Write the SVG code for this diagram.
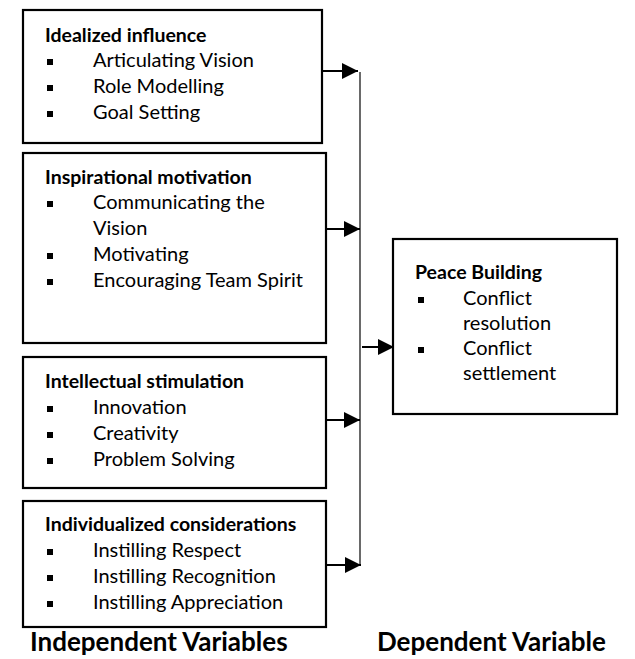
<svg xmlns="http://www.w3.org/2000/svg" width="635" height="659" viewBox="0 0 635 659">
<style>
.box{fill:#fff;stroke:#000;stroke-width:2.2}
.t{font-family:Lato,"Liberation Sans",sans-serif;font-size:20px;fill:#000}
.b{font-family:Lato,"Liberation Sans",sans-serif;font-size:19.5px;font-weight:bold;fill:#000}
.big{font-family:Lato,"Liberation Sans",sans-serif;font-size:26px;font-weight:bold;fill:#000}
.bul{fill:#000}
.ln{stroke:#000;stroke-width:2;fill:none}
.vl{stroke:#444;stroke-width:1.6;fill:none}
</style>
<defs>
<marker id="ah" viewBox="0 0 10 10" refX="10" refY="5" markerWidth="16" markerHeight="16" markerUnits="userSpaceOnUse" orient="auto">
<path d="M0,0 L10,5 L0,10 Z" fill="#000"/>
</marker>
</defs>
<g id="connectors">
<line class="vl" x1="360" y1="72" x2="360" y2="565"/>
<line class="ln" x1="322" y1="71" x2="358" y2="71" marker-end="url(#ah)"/>
<line class="ln" x1="326" y1="229" x2="360" y2="229" marker-end="url(#ah)"/>
<line class="ln" x1="326" y1="420" x2="360" y2="420" marker-end="url(#ah)"/>
<line class="ln" x1="326" y1="565" x2="361" y2="565" marker-end="url(#ah)"/>
<line class="ln" x1="362" y1="347" x2="394" y2="347" marker-end="url(#ah)"/>
</g>
<g id="idealized">
<rect class="box" x="23" y="10" width="299" height="133"/>
<text class="b" x="45" y="42">Idealized influence</text>
<rect class="bul" x="47" y="59" width="6" height="6"/><text class="t" x="93" y="67">Articulating Vision</text>
<rect class="bul" x="47" y="85" width="6" height="6"/><text class="t" x="93" y="93">Role Modelling</text>
<rect class="bul" x="47" y="111" width="6" height="6"/><text class="t" x="93" y="119">Goal Setting</text>
</g>
<g id="inspirational">
<rect class="box" x="23" y="153" width="303" height="190"/>
<text class="b" x="45" y="184">Inspirational motivation</text>
<rect class="bul" x="47" y="201" width="6" height="6"/><text class="t" x="93" y="209">Communicating the</text>
<text class="t" x="93" y="235">Vision</text>
<rect class="bul" x="47" y="253" width="6" height="6"/><text class="t" x="93" y="261">Motivating</text>
<rect class="bul" x="47" y="279" width="6" height="6"/><text class="t" x="93" y="287">Encouraging Team Spirit</text>
</g>
<g id="intellectual">
<rect class="box" x="23" y="357" width="303" height="131"/>
<text class="b" x="45" y="388">Intellectual stimulation</text>
<rect class="bul" x="47" y="406" width="6" height="6"/><text class="t" x="93" y="414">Innovation</text>
<rect class="bul" x="47" y="432" width="6" height="6"/><text class="t" x="93" y="440">Creativity</text>
<rect class="bul" x="47" y="458" width="6" height="6"/><text class="t" x="93" y="466">Problem Solving</text>
</g>
<g id="individualized">
<rect class="box" x="23" y="501" width="303" height="126"/>
<text class="b" x="45" y="531">Individualized considerations</text>
<rect class="bul" x="47" y="549" width="6" height="6"/><text class="t" x="93" y="557">Instilling Respect</text>
<rect class="bul" x="47" y="575" width="6" height="6"/><text class="t" x="93" y="583">Instilling Recognition</text>
<rect class="bul" x="47" y="601" width="6" height="6"/><text class="t" x="93" y="609">Instilling Appreciation</text>
</g>
<g id="peace">
<rect class="box" x="393" y="239" width="224" height="175"/>
<text class="b" x="415" y="279">Peace Building</text>
<rect class="bul" x="418" y="297" width="6" height="6"/><text class="t" x="463" y="305">Conflict</text>
<text class="t" x="463" y="330">resolution</text>
<rect class="bul" x="418" y="347" width="6" height="6"/><text class="t" x="463" y="355">Conflict</text>
<text class="t" x="463" y="380">settlement</text>
</g>
<g id="labels">
<text class="big" x="30" y="651">Independent Variables</text>
<text class="big" x="377" y="651">Dependent Variable</text>
</g>
</svg>
